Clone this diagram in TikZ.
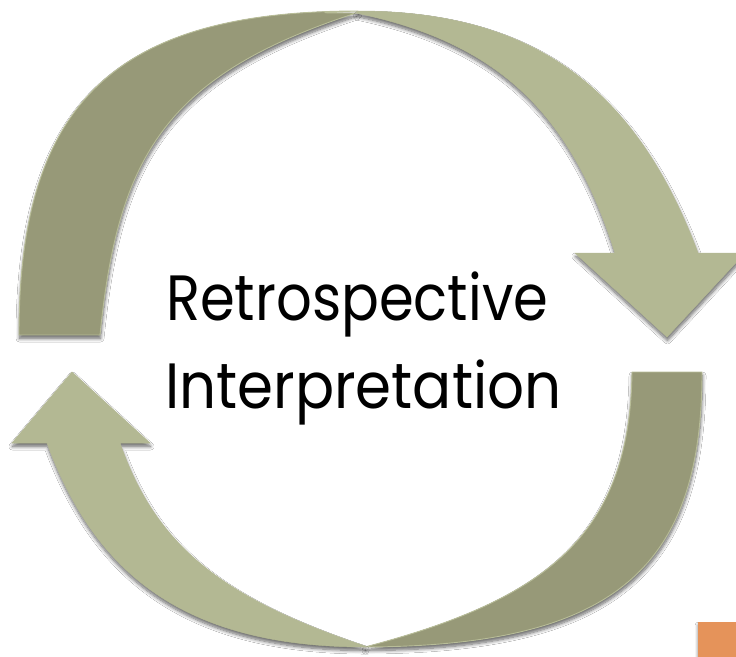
\documentclass[tikz,border=0pt]{standalone}
\usepackage{fontspec}
\setmainfont{Poppins}
\usetikzlibrary{shadows.blur}

\definecolor{ribbonlight}{HTML}{B3B893}
\definecolor{ribbondark}{HTML}{979978}
\definecolor{ribbonedge}{HTML}{B8BD98}
\definecolor{cornerorange}{HTML}{E5935A}

\tikzset{
  softshadow/.style={blur shadow={shadow xshift=0.5pt, shadow yshift=-3.5pt,
      shadow blur radius=3.5pt, shadow blur steps=8, shadow opacity=60}},
  backface/.style={fill=ribbondark, draw=ribbonedge, line width=0.9pt, line join=round, softshadow},
  frontface/.style={fill=ribbonlight, draw=ribbonlight, line width=0.5pt, line join=miter, softshadow},
  caption/.style={anchor=base west, inner sep=0pt, font=\fontsize{64}{76}\selectfont, text=black}
}

\begin{document}
\begin{tikzpicture}[x=1pt, y=-1pt]
  \useasboundingbox (0,0) rectangle (736,656);
  \fill[white] (0,0) rectangle (736,656);

  % upper arrow: back face rising on the left
  \path[backface] (19,335) .. controls (19,105) and (113,11) .. (358,11)
        .. controls (300,13) and (330,13) .. (356,13)
        .. controls (166,75) and (118,155) .. (100,335) -- cycle;
  % lower arrow: back face descending on the right
  \path[backface] (702,372) .. controls (702,572) and (610,646) .. (365,647)
        .. controls (544,600) and (630,537) .. (632,372) -- cycle;

  % upper arrow: front face with head pointing down
  \path[frontface] (358,11) .. controls (538,11) and (638,93) .. (698,253)
        -- (745,253) -- (667,337) -- (575,253) -- (615,253)
        .. controls (570,110) and (495,42) .. (356,13) -- cycle;
  % lower arrow: front face with head pointing up
  \path[frontface] (365,647) .. controls (175,647) and (92,565) .. (47,443)
        -- (12,443) -- (72,372) -- (150,443) -- (120,443)
        .. controls (156,546) and (222,598) .. (365,646) -- cycle;

  % corner tab
  \path[fill=cornerorange, softshadow] (698,622) rectangle (745,665);

  \node[caption] (line1) at (166,320) {\scalebox{0.875}[1]{Retrospective}};
  \node[caption] (line2) at (165,408) {\scalebox{0.905}[1]{Interpretation}};
\end{tikzpicture}
\end{document}
